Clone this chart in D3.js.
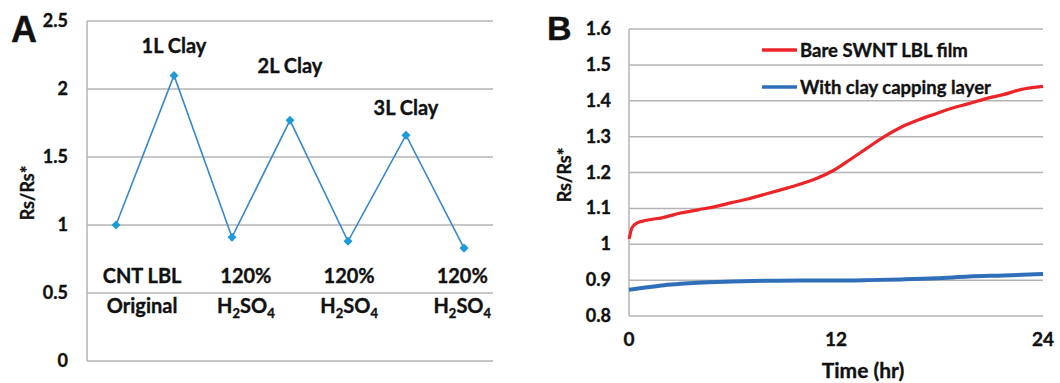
<!DOCTYPE html>
<html>
<head>
<meta charset="utf-8">
<script src="https://cdn.jsdelivr.net/npm/d3@7"></script>
<style>
  body { margin: 0; background: #fff; }
  svg text { font-family: Lato, "Open Sans", sans-serif; font-weight: bold; fill: #111; stroke: #111; stroke-width: 0.35px; }
</style>
</head>
<body>
<svg id="chart" width="1060" height="383"></svg>
<script>
// ==========================================================================
// DATA
// ==========================================================================

// panel A: one value per step, in order
var stepValues = [1.0, 2.1, 0.91, 1.77, 0.88, 1.66, 0.83]
var clayLabels = [{text: "1L Clay", at: 1}, {text: "2L Clay", at: 3}, {text: "3L Clay", at: 5}]
var bottomLabels = [
  {top: "CNT LBL", bottom: "Original", at: 0.45},
  {top: "120%", bottom: "acid", at: 2.24},
  {top: "120%", bottom: "acid", at: 4.02},
  {top: "120%", bottom: "acid", at: 5.97}
]
var yTicksA = [0, 0.5, 1, 1.5, 2, 2.5]

// panel B: time (hr) and Rs/Rs*
var timeHr =      [0, 0.04, 0.16, 0.45, 0.94, 2.03, 3.0, 4.0, 5.0, 5.96, 6.94, 7.93, 8.9, 9.9, 10.9, 11.9, 12.85, 13.8, 14.8, 15.8, 16.8, 17.8, 18.7, 19.7, 20.7, 21.7, 22.7, 24]
var bareFilm =    [1.015, 1.022, 1.045, 1.059, 1.066, 1.075, 1.087, 1.096, 1.105, 1.116, 1.127, 1.140, 1.153, 1.167, 1.184, 1.207, 1.237, 1.268, 1.300, 1.327, 1.347, 1.364, 1.379, 1.392, 1.406, 1.417, 1.431, 1.440]
var cappedTime =  [0, 1.04, 2.03, 3.0, 4.0, 5.96, 7.9, 9.9, 11.9, 13.8, 15.8, 17.8, 19.7, 21.7, 24]
var cappedFilm =  [0.873, 0.880, 0.886, 0.890, 0.893, 0.896, 0.898, 0.899, 0.899, 0.900, 0.902, 0.905, 0.910, 0.913, 0.917]
var seriesNames = ["Bare SWNT LBL film", "With clay capping layer"]
var seriesColors = ["#ec2528", "#2f6fba"]
var yTicksB = [0.8, 0.9, 1.0, 1.1, 1.2, 1.3, 1.4, 1.5, 1.6]
var xTicksB = [0, 12, 24]

var svg = d3.select("#chart")
var gridColor = "#b4b4b4"

// ==========================================================================
// PANEL A
// ==========================================================================

var xA = d3.scaleLinear().domain([-0.5, stepValues.length - 0.5]).range([87, 493])
var yA = d3.scaleLinear().domain([0, 2.5]).range([361, 21])

var gA = svg.append("g")

gA.selectAll("line.grid").data(yTicksA).enter().append("line")
  .attr("x1", xA(-0.5)).attr("x2", xA(6.5))
  .attr("y1", d => yA(d)).attr("y2", d => yA(d))
  .attr("stroke", gridColor).attr("stroke-width", 1.5)
gA.append("line")
  .attr("x1", xA(-0.5)).attr("x2", xA(-0.5))
  .attr("y1", yA(0)).attr("y2", yA(2.5))
  .attr("stroke", gridColor).attr("stroke-width", 1.5)

gA.selectAll("text.tick").data(yTicksA).enter().append("text")
  .attr("x", 68).attr("y", d => yA(d) + 6)
  .attr("text-anchor", "end").style("font-size", "18px")
  .text(d => d3.format("")(d))

gA.append("path")
  .datum(stepValues)
  .attr("fill", "none").attr("stroke", "#3a88cb").attr("stroke-width", 1.6)
  .attr("d", d3.line().x((d, i) => xA(i)).y(d => yA(d)))

gA.selectAll("path.marker").data(stepValues).enter().append("path")
  .attr("d", d3.symbol().type(d3.symbolDiamond2).size(52))
  .attr("transform", (d, i) => "translate(" + xA(i) + "," + yA(d) + ")")
  .attr("fill", "#1e9bd7")

var clayY = [53, 73, 115]
gA.selectAll("text.clay").data(clayLabels).enter().append("text")
  .attr("x", d => xA(d.at)).attr("y", (d, i) => clayY[i])
  .attr("text-anchor", "middle").style("font-size", "20px")
  .text(d => d.text)

var bl = gA.selectAll("g.bl").data(bottomLabels).enter().append("g")
bl.append("text")
  .attr("x", d => xA(d.at)).attr("y", 283)
  .attr("text-anchor", "middle").style("font-size", "20px")
  .text(d => d.top)
var bottomText = bl.append("text")
  .attr("x", d => xA(d.at)).attr("y", 313)
  .attr("text-anchor", "middle").style("font-size", "20px")
bottomText.each(function(d) {
  var t = d3.select(this)
  if (d.bottom != "acid") { t.text(d.bottom); return }
  t.append("tspan").text("H")
  t.append("tspan").attr("dy", 5).style("font-size", "13px").text("2")
  t.append("tspan").attr("dy", -5).text("SO")
  t.append("tspan").attr("dy", 5).style("font-size", "13px").text("4")
})

gA.append("text")
  .attr("transform", "translate(34,193) rotate(-90)")
  .attr("text-anchor", "middle").style("font-size", "18px")
  .text("Rs/Rs*")

svg.append("text").attr("x", 11).attr("y", 42)
  .style("font-family", "'Liberation Sans', Arial, sans-serif").style("font-size", "36px")
  .text("A")

// ==========================================================================
// PANEL B
// ==========================================================================

var xB = d3.scaleLinear().domain([0, 24]).range([629, 1043])
var yB = d3.scaleLinear().domain([0.8, 1.6]).range([316, 29])

var gB = svg.append("g")

gB.selectAll("line.grid").data(yTicksB).enter().append("line")
  .attr("x1", xB(0)).attr("x2", xB(24))
  .attr("y1", d => yB(d)).attr("y2", d => yB(d))
  .attr("stroke", gridColor).attr("stroke-width", 1.5)
gB.append("line")
  .attr("x1", xB(0)).attr("x2", xB(0))
  .attr("y1", yB(0.8)).attr("y2", yB(1.6))
  .attr("stroke", gridColor).attr("stroke-width", 1.5)

gB.selectAll("text.ytick").data(yTicksB).enter().append("text")
  .attr("x", 611).attr("y", d => yB(d) + 6)
  .attr("text-anchor", "end").style("font-size", "18px")
  .text(d => d == 1 ? "1" : d3.format(".1f")(d))

gB.selectAll("text.xtick").data(xTicksB).enter().append("text")
  .attr("x", d => xB(d)).attr("y", 346)
  .attr("text-anchor", "middle").style("font-size", "19px")
  .text(d => d)

gB.append("text").attr("x", 863).attr("y", 378)
  .attr("text-anchor", "middle").style("font-size", "21px")
  .text("Time (hr)")

gB.append("text")
  .attr("transform", "translate(571,175) rotate(-90)")
  .attr("text-anchor", "middle").style("font-size", "18px")
  .text("Rs/Rs*")

var lineB = d3.line().x(d => xB(d[0])).y(d => yB(d[1])).curve(d3.curveMonotoneX)

gB.append("path")
  .datum(d3.zip(cappedTime, cappedFilm))
  .attr("fill", "none").attr("stroke", seriesColors[1]).attr("stroke-width", 4)
  .attr("d", lineB)
gB.append("path")
  .datum(d3.zip(timeHr, bareFilm))
  .attr("fill", "none").attr("stroke", seriesColors[0]).attr("stroke-width", 3.2)
  .attr("d", lineB)

// legend
var legendY = [50, 87]
var leg = gB.selectAll("g.legend").data(seriesNames).enter().append("g")
leg.append("line")
  .attr("x1", 762).attr("x2", 797)
  .attr("y1", (d, i) => legendY[i]).attr("y2", (d, i) => legendY[i])
  .attr("stroke", (d, i) => seriesColors[i]).attr("stroke-width", 3.5)
leg.append("text")
  .attr("x", 800).attr("y", (d, i) => legendY[i] + 7)
  .style("font-size", "18.5px")
  .text(d => d)

svg.append("text").attr("x", 547).attr("y", 40)
  .style("font-family", "'Liberation Sans', Arial, sans-serif").style("font-size", "34px")
  .text("B")
</script>
</body>
</html>
